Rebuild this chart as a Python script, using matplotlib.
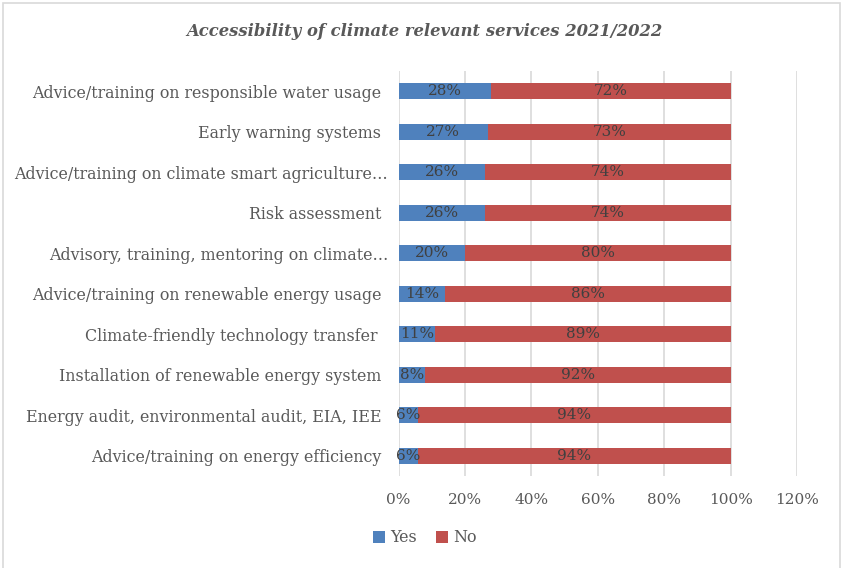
import matplotlib
matplotlib.use("Agg")
import matplotlib.pyplot as plt
from matplotlib.patches import Rectangle
from matplotlib.transforms import ScaledTranslation
import numpy as np

# Services listed bottom-to-top as drawn on the y axis
services = [
    "Advice/training on energy efficiency",
    "Energy audit, environmental audit, EIA, IEE",
    "Installation of renewable energy system",
    "Climate-friendly technology transfer",
    "Advice/training on renewable energy usage",
    "Advisory, training, mentoring on climate\u2026",
    "Risk assessment",
    "Advice/training on climate smart agriculture\u2026",
    "Early warning systems",
    "Advice/training on responsible water usage",
]
yes_pct = [6, 6, 8, 11, 14, 20, 26, 26, 27, 28]
no_pct = [94, 94, 92, 89, 86, 80, 74, 74, 73, 72]
x_ticks = [0, 20, 40, 60, 80, 100, 120]

BLUE = "#4F81BD"
RED = "#C0504D"
FONT = "DejaVu Serif"

W, H = 843, 568
fig = plt.figure(figsize=(W / 100, H / 100), dpi=100)
fig.patch.set_facecolor("white")

# light frame around the chart area
fig.add_artist(Rectangle((2.5 / W, -0.01), (840 - 2.5) / W, 1 - 2.5 / H + 0.01,
                         transform=fig.transFigure, fill=False,
                         edgecolor="#D9D9D9", linewidth=1.2))

left, right, top, bottom = 398.5, 797, 71, 476
ax = fig.add_axes([left / W, 1 - bottom / H, (right - left) / W, (bottom - top) / H])

y = np.arange(len(services))
h = 0.4
ax.barh(y, yes_pct, height=h, color=BLUE, label="Yes", zorder=3)
ax.barh(y, no_pct, left=yes_pct, height=h, color=RED, label="No", zorder=3)

for yi, a, b in zip(y, yes_pct, no_pct):
    ax.text(a / 2, yi, f"{a}%", ha="center", va="center", fontsize=11,
            color="#404040", family=FONT, zorder=4)
    ax.text(a + b / 2, yi, f"{b}%", ha="center", va="center", fontsize=11,
            color="#404040", family=FONT, zorder=4)

ax.set_xlim(0, 120)
ax.set_ylim(-0.5, len(services) - 0.5)
ax.set_xticks(x_ticks)
ax.set_xticklabels([f"{t}%" for t in x_ticks], family=FONT, fontsize=11, color="#595959")
ax.set_yticks(y)
ax.set_yticklabels(services, family=FONT, fontsize=11.4, color="#595959")
ax.tick_params(axis="both", length=0)
ax.tick_params(axis="x", pad=12)
ax.tick_params(axis="y", pad=12.5)
ax.grid(axis="x", color="#D9D9D9", linewidth=1.2, zorder=0)
for s in ax.spines.values():
    s.set_visible(False)

# truncated labels run a little closer to the bars
for lbl in ax.get_yticklabels():
    txt = lbl.get_text()
    dx = 0
    if txt.endswith("\u2026"):
        dx = 7
    elif txt.startswith("Climate-friendly"):
        dx = -4
    if dx:
        lbl.set_transform(lbl.get_transform() + ScaledTranslation(dx / 100, 0, fig.dpi_scale_trans))

fig.text(424 / W, 1 - 32 / H, "Accessibility of climate relevant services 2021/2022",
         ha="center", va="center", family=FONT, fontsize=11.8, fontweight="bold",
         style="italic", color="#595959")

leg = fig.legend(loc="center", bbox_to_anchor=(425 / W, 1 - 538 / H), ncol=2,
                 frameon=False, prop={"family": FONT, "size": 11.4},
                 handlelength=0.75, handleheight=0.75, handletextpad=0.35,
                 columnspacing=1.2)
for t in leg.get_texts():
    t.set_color("#595959")

fig.savefig("out.png", dpi=100, facecolor="white")
